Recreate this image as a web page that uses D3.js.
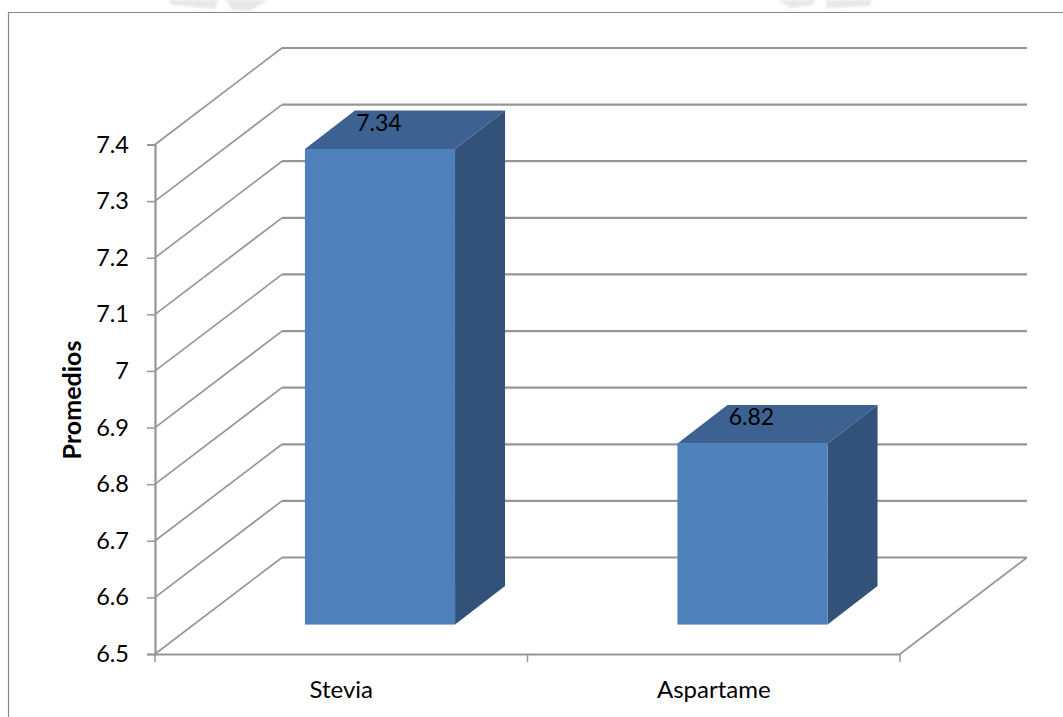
<!DOCTYPE html>
<html>
<head>
<meta charset="utf-8">
<script src="https://d3js.org/d3.v7.min.js"></script>
<style>
  html, body { margin: 0; padding: 0; background: #fff; overflow: hidden; }
  text { font-family: Lato, "Open Sans", sans-serif; fill: #000; }
</style>
</head>
<body>
<script>
var categories = ["Stevia", "Aspartame"];
var promedios = [7.34, 6.82];
var yTicks = [6.5, 6.6, 6.7, 6.8, 6.9, 7, 7.1, 7.2, 7.3, 7.4];

var width = 1063, height = 717;
var grid = "#969696";

// plot front plane, and how far the walls recede up and to the right
var left = 155, right = 900, bottom = 654, top_ = 144.5;
var depthX = 127, depthY = 96.5;
// where the columns start in depth, and how deep they are
var barNear = 0.305, barDepthX = 50, barDepthY = 38.5;

var x = d3.scaleBand()
    .domain(categories)
    .range([left, right])
    .paddingInner(0)
    .paddingOuter(0);

var y = d3.scaleLinear()
    .domain([6.5, 7.4])
    .range([bottom, top_]);

var barWidth = x.bandwidth() * 0.403;

var svg = d3.select("body").append("svg")
    .attr("width", width)
    .attr("height", height)
    .style("display", "block");

var defs = svg.append("defs");
defs.append("filter").attr("id", "soft")
    .append("feGaussianBlur").attr("stdDeviation", 1.2);

// faint page emblem peeking out above the chart frame
var emblem = svg.append("g").attr("fill", "#e6e9e5").attr("filter", "url(#soft)");
emblem.append("path").attr("d", "M168,0L172,5L215,9L218,0Z");
emblem.append("path").attr("d", "M226,0L232,10L250,11L262,4L268,0Z");
emblem.append("path").attr("d", "M778,0L790,8L812,5L816,0Z");
emblem.append("path").attr("d", "M826,0L826,8L870,6L872,0Z");

// chart area border, runs off the right and bottom
svg.append("path")
    .attr("d", "M8.5,717V12.5H1063")
    .attr("fill", "none")
    .attr("stroke", "#868686")
    .attr("stroke-width", 1.2);

// back wall lines and the diagonals on the side wall
var walls = svg.append("g").attr("fill", "none").attr("stroke", grid);

walls.selectAll(".back")
    .data(yTicks)
    .enter().append("line")
    .attr("class", "back")
    .attr("x1", left + depthX)
    .attr("x2", right + depthX)
    .attr("y1", function(d) { return y(d) - depthY; })
    .attr("y2", function(d) { return y(d) - depthY; })
    .attr("stroke-width", 2.2);

walls.selectAll(".side")
    .data(yTicks)
    .enter().append("line")
    .attr("class", "side")
    .attr("x1", left)
    .attr("x2", left + depthX)
    .attr("y1", function(d) { return y(d); })
    .attr("y2", function(d) { return y(d) - depthY; })
    .attr("stroke-width", 1.7);

// right edge of the floor
walls.append("line")
    .attr("x1", right)
    .attr("x2", right + depthX)
    .attr("y1", bottom)
    .attr("y2", bottom - depthY)
    .attr("stroke-width", 1.7);

// axes
var yAxis = svg.append("g")
    .attr("transform", "translate(" + left + ",0)")
    .call(d3.axisLeft(y).tickValues(yTicks).tickSize(8).tickPadding(18)
        .tickFormat(function(d) { return String(d); }));

var xAxis = svg.append("g")
    .attr("transform", "translate(0," + bottom + ")")
    .call(d3.axisBottom(x).tickValues([]).tickSize(0));

xAxis.selectAll(".edge")
    .data(x.domain().map(function(d) { return x(d); }).concat(right))
    .enter().append("line")
    .attr("class", "edge")
    .attr("x1", function(d) { return d; })
    .attr("x2", function(d) { return d; })
    .attr("y1", 0)
    .attr("y2", 8)
    .attr("stroke", grid)
    .attr("stroke-width", 1.5);

xAxis.selectAll(".cat")
    .data(categories)
    .enter().append("text")
    .attr("class", "cat")
    .attr("x", function(d) { return x(d) + x.bandwidth() / 2; })
    .attr("y", 44)
    .attr("text-anchor", "middle")
    .attr("font-size", "24px")
    .text(function(d) { return d; });

svg.selectAll(".domain")
    .attr("stroke", grid)
    .attr("stroke-width", 2.2);
yAxis.selectAll(".tick line").attr("stroke", grid).attr("stroke-width", 1.5);
yAxis.selectAll(".tick text")
    .attr("font-size", "23.5px")
    .style("font-family", "Lato, sans-serif")
    .attr("fill", "#000");

// 3d columns: side, top, then front face
var bars = svg.selectAll(".bar")
    .data(categories)
    .enter().append("g")
    .attr("class", "bar");

function frontX(i) {
    return x(categories[i]) + (x.bandwidth() - barWidth) / 2 + depthX * barNear;
}
function frontY(v) {
    return y(v) - depthY * barNear;
}

bars.append("path")
    .attr("fill", "#325279")
    .attr("d", function(d, i) {
        var x1 = frontX(i) + barWidth, t = frontY(promedios[i]), b = frontY(6.5);
        return "M" + x1 + "," + t + "l" + barDepthX + "," + (-barDepthY) +
            "V" + (b - barDepthY) + "L" + x1 + "," + b + "Z";
    });

bars.append("path")
    .attr("fill", "#3d6190")
    .attr("d", function(d, i) {
        var x0 = frontX(i), t = frontY(promedios[i]);
        return "M" + x0 + "," + t + "l" + barDepthX + "," + (-barDepthY) +
            "h" + barWidth + "l" + (-barDepthX) + "," + barDepthY + "Z";
    });

bars.append("rect")
    .attr("fill", "#4e80bc")
    .attr("x", function(d, i) { return frontX(i); })
    .attr("y", function(d, i) { return frontY(promedios[i]); })
    .attr("width", barWidth)
    .attr("height", function(d, i) { return frontY(6.5) - frontY(promedios[i]); });

// value labels sit on the top face
bars.append("text")
    .attr("x", function(d, i) { return frontX(i) + barWidth / 2 - 1; })
    .attr("y", function(d, i) { return frontY(promedios[i]) - 18; })
    .attr("text-anchor", "middle")
    .attr("font-size", "23px")
    .text(function(d, i) { return promedios[i]; });

svg.append("text")
    .attr("transform", "translate(81,400) rotate(-90)")
    .attr("text-anchor", "middle")
    .attr("font-size", "25px")
    .attr("font-weight", "bold")
    .text("Promedios");
</script>
</body>
</html>
